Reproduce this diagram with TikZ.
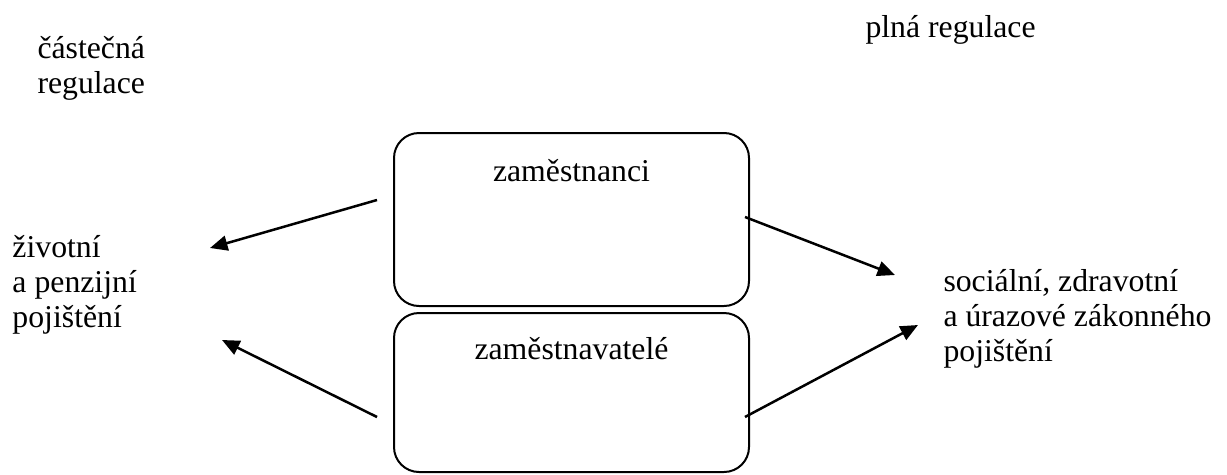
\documentclass[tikz,border=0pt]{standalone}
\usepackage{fontspec}
\setmainfont{Liberation Serif}
\usetikzlibrary{arrows.meta}
\begin{document}
\begin{tikzpicture}[x=0.4pt,y=-0.4pt,
  lbl/.style={anchor=base west, align=left, inner sep=0pt, font=\fontsize{12.7pt}{14pt}\selectfont},
  box/.style={draw, line width=0.8pt, rounded corners=10pt, minimum width=142pt, inner sep=0pt,
    font=\fontsize{12.7pt}{14pt}\selectfont},
  arr/.style={line width=1pt, -{Triangle[length=7pt,width=6pt]}}]
\useasboundingbox (0,0) rectangle (1227,474);
\node[box, text height=19.2pt, text depth=50pt, anchor=north west] (b1) at (393,132) {zaměstnanci};
\node[box, text height=18.4pt, text depth=45.2pt, anchor=north west] (b2) at (393,312) {zaměstnavatelé};
\node[lbl] (castecna) at (37,93) {částečná\\regulace};
\node[lbl] (plna) at (865,37) {plná regulace};
\node[lbl] (zivotni) at (12,327) {životní\\a penzijní\\pojištění};
\node[lbl] (socialni) at (943,361) {sociální, zdravotní\\a úrazové zákonného\\pojištění};
\coordinate (l1s) at (377,200);
\coordinate (l1e) at (210,248);
\coordinate (l2s) at (377,417);
\coordinate (l2e) at (222,340);
\coordinate (r1s) at (745,217);
\coordinate (r1e) at (895,275);
\coordinate (r2s) at (745,417);
\coordinate (r2e) at (918,325);
\draw[arr] (l1s) -- (l1e);
\draw[arr] (l2s) -- (l2e);
\draw[arr] (r1s) -- (r1e);
\draw[arr] (r2s) -- (r2e);
\end{tikzpicture}
\end{document}
